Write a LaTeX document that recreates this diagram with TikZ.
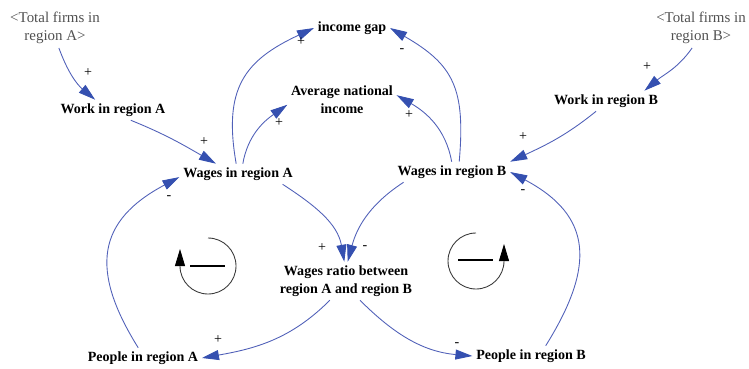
\documentclass[tikz,border=0pt]{standalone}
\usepackage{fontspec}
\setmainfont{Liberation Serif}
\usetikzlibrary{arrows.meta}
\definecolor{linkblue}{HTML}{5060B8}
\definecolor{tipblue}{HTML}{3550B0}
\definecolor{shadowgray}{HTML}{505050}
\definecolor{loopgray}{HTML}{3A3A3A}

\begin{document}
\begin{tikzpicture}[x=0.02cm,y=0.02cm,
    varnode/.style={font=\bfseries\fontsize{8}{10.2}\selectfont,align=center,inner sep=2pt},
    ghostvar/.style={font=\fontsize{8.5}{10.5}\selectfont,text=shadowgray,align=center,inner sep=2pt},
    link/.style={draw=linkblue,line width=0.5pt,-{Triangle[length=0.34cm,width=0.2cm,color=tipblue]}},
    sgn/.style={font=\fontsize{8}{9}\selectfont,inner sep=0pt},
    loopline/.style={draw=loopgray,line width=0.5pt,-{Triangle[length=0.34cm,width=0.2cm,color=black]}}]
  \useasboundingbox (0,0) rectangle (749,-368);

  % variables
  \node[ghostvar] (totA) at (55,-28) {<Total firms in\\region A>};
  \node[ghostvar] (totB) at (701,-28) {<Total firms in\\region B>};
  \node[varnode] (workA) at (113,-110) {Work in region A};
  \node[varnode] (workB) at (606,-101) {Work in region B};
  \node[varnode] (gap) at (352,-28) {income gap};
  \node[varnode] (avg) at (342,-100) {Average national\\income};
  \node[varnode] (wagesA) at (238,-174) {Wages in region A};
  \node[varnode] (wagesB) at (452,-172) {Wages in region B};
  \node[varnode] (ratio) at (346,-281) {Wages ratio between\\region A and region B};
  \node[varnode] (peopleA) at (143,-358) {People in region A};
  \node[varnode] (peopleB) at (531,-356) {People in region B};

  % causal links
  \draw[link] (totA.-79) to[out=-70,in=140] (workA.150);
  \draw[link] (workA.-30) to[out=-22,in=150] (wagesA.155);
  \draw[link] (wagesA.100) to[out=100,in=205,looseness=1.25] (gap.west);
  \draw[link] (wagesA.65) to[out=80,in=215] (avg.185);
  \draw[link] (wagesB.92) to[out=100,in=-30] (avg.5);
  \draw[link] (wagesB.55) to[out=85,in=-30,looseness=1.25] (gap.east);
  \draw[link] (workB.-134) to[out=-141,in=25] (wagesB.north east);
  \draw[link] (totB.-114) to[out=-125,in=40] (workB.15);
  \draw[link] (wagesA.-13) to[out=-33,in=100] (ratio.95);
  \draw[link] (wagesB.-168) to[out=-147,in=75] (ratio.85);
  \draw[link] (ratio.-130) to[out=-135,in=10] (peopleA.east);
  \draw[link] (ratio.-54) to[out=-45,in=175] (peopleB.west);
  \draw[link] (peopleA.115) to[out=122,in=208,looseness=1.35] (wagesA.183);
  \draw[link] (peopleB.35) to[out=58,in=-28,looseness=1.35] (wagesB.east);

  % polarities
  \node[sgn] (sg1) at (88,-73) {+};
  \node[sgn] (sg2) at (204,-142) {+};
  \node[sgn] (sg3) at (301,-42) {+};
  \node[sgn] (sg4) at (279,-123) {+};
  \node[sgn] (sg5) at (402,-51) {-};
  \node[sgn] (sg6) at (409,-115) {+};
  \node[sgn] (sg7) at (523,-137) {+};
  \node[sgn] (sg8) at (647,-67) {+};
  \node[sgn] (sg9) at (322,-248) {+};
  \node[sgn] (sg10) at (365,-248) {-};
  \node[sgn] (sg11) at (218,-340) {+};
  \node[sgn] (sg12) at (457,-345) {-};
  \node[sgn] (sg13) at (169,-198) {-};
  \node[sgn] (sg14) at (523,-192) {-};

  % loop markers
  \coordinate (loopA) at (208,-266);
  \coordinate (loopB) at (476,-261);
  \draw[loopline] (loopA) ++(0,28) arc[start angle=90,end angle=-180,radius=28] -- ++(0,17);
  \draw[loopline] (loopB) ++(0,28) arc[start angle=90,end angle=360,radius=28] -- ++(0,17);
  \draw[line width=1.4pt] (loopA) ++(-18,0) -- ++(35,0);
  \draw[line width=1.4pt] (loopB) ++(-18,1) -- ++(35,0);
\end{tikzpicture}
\end{document}
